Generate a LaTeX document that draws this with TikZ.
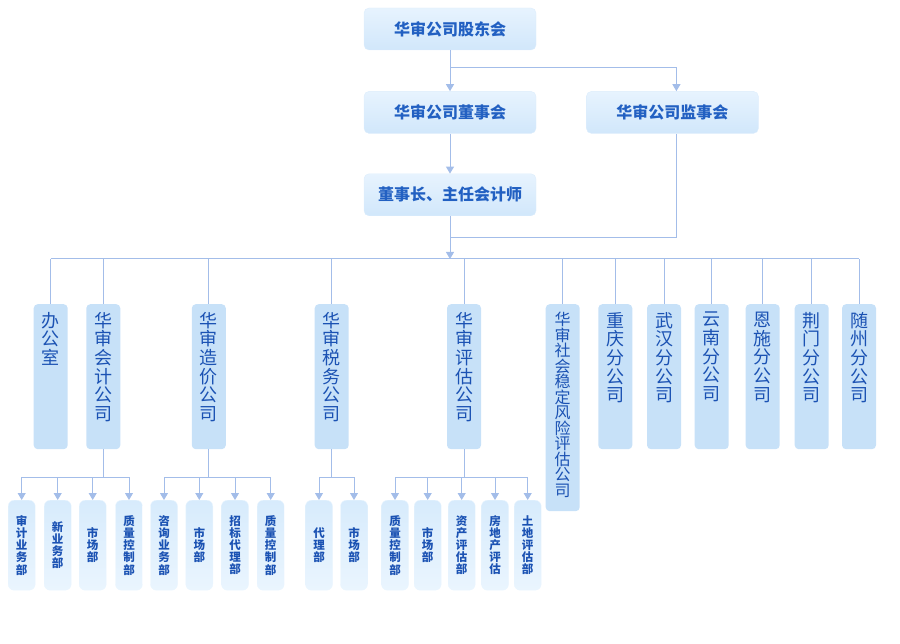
\documentclass[tikz,border=0pt]{standalone}
\usepackage{fontspec}
\newfontfamily\cjk{Noto Sans CJK SC}
\usepackage{tikz}
\usetikzlibrary{arrows.meta, positioning}

\definecolor{linkblue}{HTML}{A3BDE9}
\definecolor{headtop}{HTML}{E7F3FE}
\definecolor{headbot}{HTML}{D1E7FB}
\definecolor{headedge}{HTML}{DDEDFC}
\definecolor{headtext}{HTML}{2260C2}
\definecolor{deptfill}{HTML}{C7E1F8}
\definecolor{depttext}{HTML}{1B52B3}
\definecolor{subtop}{HTML}{D7EBFC}
\definecolor{subbot}{HTML}{EAF5FE}

% vertical text, set from the top of a column box
\newcommand\colstack[2]{\parbox[c][#1][t]{34pt}{\lineskiplimit=-20pt\vspace*{8pt}\centering #2}}

\begin{document}
\begin{tikzpicture}[
        x=1pt, y=-1pt,
        % Node styles
        headbox/.style={
            rectangle, rounded corners=5pt, draw=headedge,
            top color=headtop, bottom color=headbot,
            minimum width=172pt, minimum height=42pt, inner sep=0pt,
            font=\cjk\bfseries\fontsize{16}{18}\selectfont, text=headtext,
        },
        deptbox/.style={
            rectangle, rounded corners=4pt, fill=deptfill, draw=none,
            inner sep=0pt, anchor=north,
            font=\cjk\fontsize{18}{18.6}\selectfont, text=depttext,
        },
        subbox/.style={
            rectangle, rounded corners=6pt, draw=subbot,
            top color=subtop, bottom color=subbot,
            minimum width=27pt, minimum height=90pt, inner sep=0pt,
            anchor=north, align=center,
            font={\cjk\bfseries\fontsize{11.5}{12.2}\selectfont\lineskiplimit=-10pt},
            text=depttext,
        },
        % Edge styles
        link/.style={draw=linkblue, line width=1pt},
        arrow/.style={link, -{Triangle[width=8pt, length=7pt]}, color=linkblue},
    ]
    \useasboundingbox (0,0) rectangle (900,644);

    % --- top of the chart ---
    \node[headbox] (gdh) at (450,29) {华审公司股东会};
    \node[headbox, below=41pt of gdh] (dsh) {华审公司董事会};
    \node[headbox, right=50pt of dsh] (jsh) {华审公司监事会};
    \node[headbox, below=40pt of dsh] (dsz) {董事长、主任会计师};

    \coordinate (split) at (450,68);
    \coordinate (merge) at (450,238);
    \coordinate (bus) at (450,259);
    \coordinate (jtop) at ([xshift=4pt]jsh.north);
    \coordinate (jbot) at ([xshift=4pt]jsh.south);

    \draw[arrow] (gdh) -- (dsh);
    \draw[arrow] (split) -| (jtop);
    \draw[arrow] (dsh) -- (dsz);
    \draw[link] (jbot) |- (merge);
    \draw[arrow] (dsz.south) -- (bus);

    % --- companies and offices ---
    \foreach \n/\x/\t in {
        bgs/50.7/{办\\公\\室},
        kj/103.3/{华\\审\\会\\计\\公\\司},
        zj/208.8/{华\\审\\造\\价\\公\\司},
        sw/331.7/{华\\审\\税\\务\\公\\司},
        pg/464/{华\\审\\评\\估\\公\\司},
        cq/615.3/{重\\庆\\分\\公\\司},
        wh/664/{武\\汉\\分\\公\\司},
        yn/711.7/{云\\南\\分\\公\\司},
        es/762.7/{恩\\施\\分\\公\\司},
        jm/811.7/{荆\\门\\分\\公\\司},
        sz/859/{随\\州\\分\\公\\司}} {
        \node[deptbox] (\n) at (\x,304) {\colstack{145pt}{\t}};
    }
    \node[deptbox, font=\cjk\fontsize{16}{15.5}\selectfont] (sh) at (562.7,304)
        {\colstack{207pt}{华\\审\\社\\会\\稳\\定\\风\\险\\评\\估\\公\\司}};

    \draw[link] (bgs.north |- bus) -- (sz.north |- bus);
    \foreach \n in {bgs, kj, zj, sw, pg, sh, cq, wh, yn, es, jm, sz}
        \draw[link] (\n.north |- bus) -- (\n.north);

    % --- departments ---
    \foreach \n/\x/\t in {
        kj1/21.7/{审\\计\\业\\务\\部}, kj2/57.7/{新\\业\\务\\部},
        kj3/92.7/{市\\场\\部}, kj4/129/{质\\量\\控\\制\\部},
        zj1/164/{咨\\询\\业\\务\\部}, zj2/199.3/{市\\场\\部},
        zj3/235/{招\\标\\代\\理\\部}, zj4/270.7/{质\\量\\控\\制\\部},
        sw1/319/{代\\理\\部}, sw2/354/{市\\场\\部},
        pg1/395/{质\\量\\控\\制\\部}, pg2/427.7/{市\\场\\部},
        pg3/461.7/{资\\产\\评\\估\\部}, pg4/495/{房\\地\\产\\评\\估},
        pg5/527.7/{土\\地\\评\\估\\部}} {
        \node[subbox] (\n) at (\x,500) {\t};
    }

    \coordinate (row) at (0,477);
    \foreach \p/\a/\b in {kj/kj1/kj4, zj/zj1/zj4, sw/sw1/sw2, pg/pg1/pg5} {
        \draw[link] (\p.south) -- (\p.south |- row);
        \draw[link] (\a.north |- row) -- (\b.north |- row);
    }
    \foreach \n in {kj1, kj2, kj3, kj4, zj1, zj2, zj3, zj4, sw1, sw2,
                    pg1, pg2, pg3, pg4, pg5}
        \draw[arrow] (\n.north |- row) -- (\n.north);

\end{tikzpicture}
\end{document}
